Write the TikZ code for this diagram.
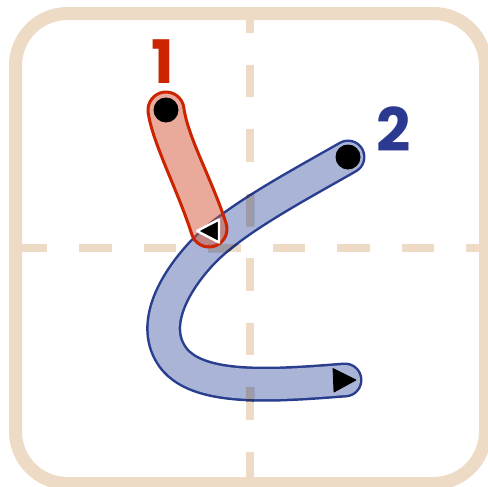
\documentclass[tikz,border=0pt]{standalone}
\usepackage{fontspec}
\setmainfont{Poppins}
\usetikzlibrary{positioning}

\definecolor{guide}{RGB}{238,219,198}
\definecolor{redline}{RGB}{204,36,0}
\definecolor{redbase}{RGB}{211,85,55}
\definecolor{blueline}{RGB}{42,62,144}
\definecolor{bluefill}{RGB}{169,180,214}
\definecolor{guideblueline}{RGB}{39,53,112}
\definecolor{guidebluefill}{RGB}{158,155,167}
\definecolor{numblue}{RGB}{43,57,144}

\newcommand{\strokeoneoutline}{(148.16,112.38) .. controls (152.16,142.38) and (177.85,190.45) .. (191.85,234.45)
      arc[start angle=162.4, end angle=-17.6, radius=18]
      .. controls (212.15,179.55) and (187.84,137.62) .. (183.84,107.62)
      arc[start angle=-7.6, end angle=-187.6, radius=18] -- cycle}
\newcommand{\stroketwopath}{(348,157) .. controls (290,190) and (230,222) .. (200,255)
      .. controls (170,288) and (150,330) .. (175,360)
      .. controls (195,383) and (240,385) .. (280,384)
      .. controls (310,383) and (330,381) .. (345,380)}

\begin{document}
\begin{tikzpicture}[
  x=0.5pt, y=-0.5pt,
  frame/.style={draw=guide, line width=6.5pt, rounded corners=26pt},
  guideline/.style={draw=guide, line width=4pt, dash pattern=on 16.25pt off 16pt},
  redstroke/.style={draw=redline, line width=1.5pt, fill=redbase, fill opacity=0.5},
  blueouter/.style={draw=blueline, line width=17.5pt, line cap=round},
  blueinner/.style={draw=bluefill, line width=15pt, line cap=round},
  dot/.style={circle, fill=black, minimum size=12.5pt, inner sep=0pt},
  endmark/.style={fill=black, line join=round},
  num/.style={inner sep=0pt, font=\fontsize{30}{30}\selectfont\bfseries},
]
  \useasboundingbox (0,0) rectangle (488,487);
  \draw[frame] (15.5,13.5) rectangle (485.5,483.5);
  \draw[guideline, dash phase=0.5pt] (15.5,248) -- (485.5,248);
  \draw[guideline, dash phase=6.75pt] (250,13.5) -- (250,483.5);

  \draw[blueouter] \stroketwopath;
  \draw[blueinner] \stroketwopath;
  % guide dashes seen through stroke 2
  \begin{scope}
    \clip foreach \k in {0,...,7} {(14.5+64.5*\k,244) rectangle ++(32.5,8)
                                    (246,64.5*\k) rectangle ++(8,32.5)};
    \draw[blueouter, draw=guideblueline] \stroketwopath;
    \draw[blueinner, draw=guidebluefill] \stroketwopath;
  \end{scope}

  \filldraw[redstroke] \strokeoneoutline;

  \node[dot] (start1) at (166,110) {};
  \node[dot] (start2) at (348,157) {};
  \draw[endmark, draw=white, line width=1.2pt] (197,231) -- (219,219.5) -- (219,242.5) -- cycle;
  \draw[endmark] (356,380) -- (333,368.5) -- (334,392) -- cycle;

  \node[num, text=redline] (num1) at (162.7,61.5) {1};
  \node[num, text=numblue] (num2) at (394,129) {2};
\end{tikzpicture}
\end{document}
